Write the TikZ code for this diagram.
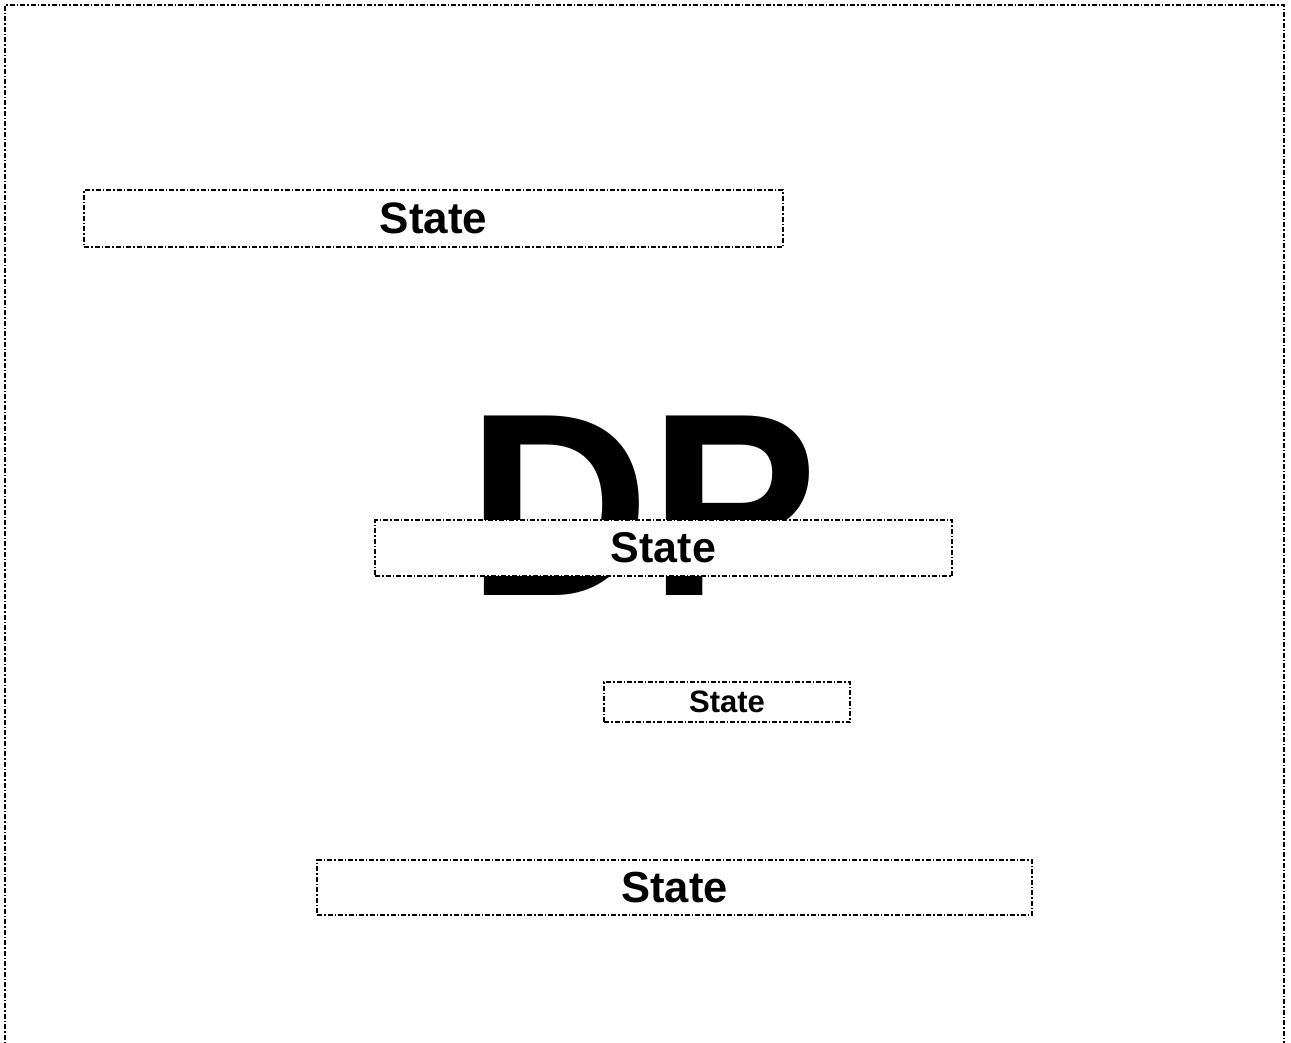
\documentclass[tikz,border=0pt]{standalone}
\usepackage{fontspec}
\setmainfont{Liberation Sans}
\begin{document}
\begin{tikzpicture}[x=1pt,y=-1pt,
  frameline/.style={line width=1.6pt, dash pattern=on 5pt off 2pt on 1.5pt off 2pt},
  statebox/.style={frameline, draw=black, fill=white, inner sep=0pt, font=\bfseries},
  bigtext/.style={inner sep=0pt, font=\fontsize{261}{261}\selectfont\bfseries}]
\useasboundingbox (0,0) rectangle (1291,1042);
\fill[white] (0,0) rectangle (1291,1042);
\draw[frameline] (5,1050) -- (5,5) -- (1284,5) -- (1284,1050);
\node[bigtext, anchor=base west, xscale=0.968, transform shape] (dp) at (467,595) {DP};
\node[statebox, minimum width=699pt, minimum height=57pt, font=\fontsize{44}{44}\selectfont\bfseries] (s1) at (433.5,218.5) {State};
\node[statebox, minimum width=577pt, minimum height=56pt, font=\fontsize{43}{43}\selectfont\bfseries] (s2) at (663.5,548) {State};
\node[statebox, minimum width=246pt, minimum height=40pt, font=\fontsize{31}{31}\selectfont\bfseries] (s3) at (727,702) {State};
\node[statebox, minimum width=715pt, minimum height=55pt, font=\fontsize{43.5}{43.5}\selectfont\bfseries] (s4) at (674.5,887.5) {State};
\end{tikzpicture}
\end{document}
